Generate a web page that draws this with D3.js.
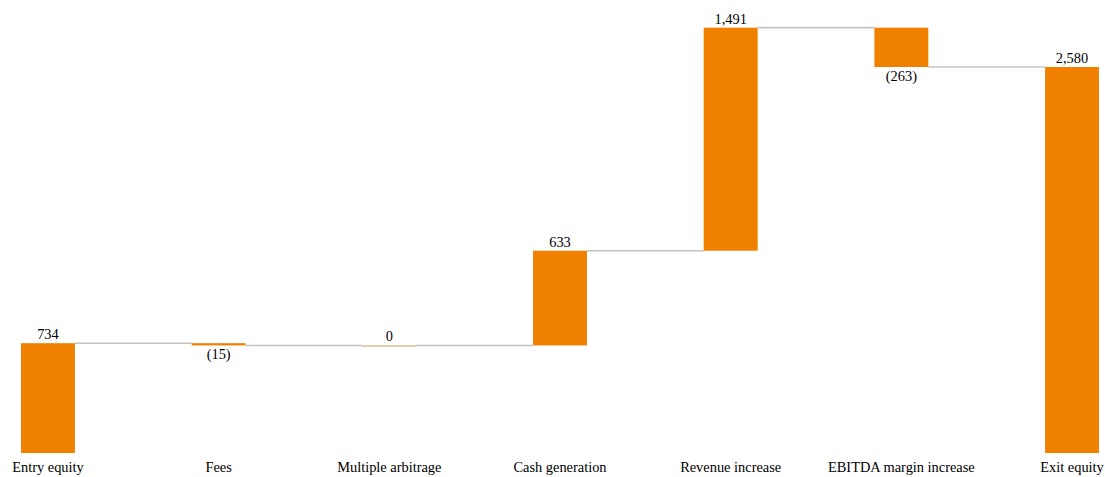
<!DOCTYPE html>
<html>
<head>
<meta charset="utf-8">
<script src="https://cdn.jsdelivr.net/npm/d3@7"></script>
<style>
  body { margin: 0; background: #fff; }
  text { font-family: "Liberation Serif", "Times New Roman", serif; font-size: 14.4px; fill: #000; }
</style>
</head>
<body>
<svg id="chart" width="1105" height="477"></svg>
<script>
// waterfall data
var categories = ["Entry equity", "Fees", "Multiple arbitrage", "Cash generation", "Revenue increase", "EBITDA margin increase", "Exit equity"];
var values = [734, -15, 0, 633, 1491, -263, 2580];
var isTotal = [true, false, false, false, false, false, true];

const svg = d3.select("#chart");
const width = 1105, height = 477;
const orange = "#f08000";

// running totals
var run = 0;
var bars = categories.map(function(c, i) {
    var d = { name: c, value: values[i], total: isTotal[i] };
    if (d.total) {
        d.start = 0; d.end = d.value; run = d.value;
    } else {
        d.start = run; d.end = run + d.value; run = d.end;
    }
    return d;
});

var x = d3.scaleBand()
    .domain(categories)
    .range([21, 1099])
    .paddingInner(0.684)
    .paddingOuter(0);

var y = d3.scaleLinear()
    .domain([0, 2580])
    .range([453, 67]);

var fmt = d3.format(",");

// connectors
svg.append("g")
    .selectAll("line")
    .data(bars.slice(0, -1))
    .enter()
    .append("line")
    .attr("x1", function(d) { return x(d.name) + x.bandwidth(); })
    .attr("x2", function(d, i) { return x(categories[i + 1]); })
    .attr("y1", function(d) { return y(d.end); })
    .attr("y2", function(d) { return y(d.end); })
    .attr("stroke", "#c4c4c4")
    .attr("stroke-width", 1.6);

// bars
svg.append("g")
    .selectAll("rect")
    .data(bars)
    .enter()
    .append("rect")
    .attr("x", function(d) { return x(d.name); })
    .attr("width", x.bandwidth())
    .attr("y", function(d) { return y(Math.max(d.start, d.end)); })
    .attr("height", function(d) { return Math.max(1.2, Math.abs(y(d.start) - y(d.end))); })
    .attr("fill", function(d) { return d.value == 0 ? "#d8a870" : orange; });

// value labels
svg.append("g")
    .selectAll("text")
    .data(bars)
    .enter()
    .append("text")
    .attr("text-anchor", "middle")
    .attr("x", function(d) { return x(d.name) + x.bandwidth() / 2; })
    .attr("y", function(d) {
        if (d.value < 0) return y(Math.min(d.start, d.end)) + 14;
        return y(Math.max(d.start, d.end)) - 4;
    })
    .text(function(d) {
        return d.value < 0 ? "(" + fmt(-d.value) + ")" : fmt(d.value);
    });

// category labels
svg.append("g")
    .selectAll("text")
    .data(categories)
    .enter()
    .append("text")
    .attr("text-anchor", "middle")
    .attr("x", function(d) { return x(d) + x.bandwidth() / 2; })
    .attr("y", 472)
    .text(function(d) { return d; });
</script>
</body>
</html>
